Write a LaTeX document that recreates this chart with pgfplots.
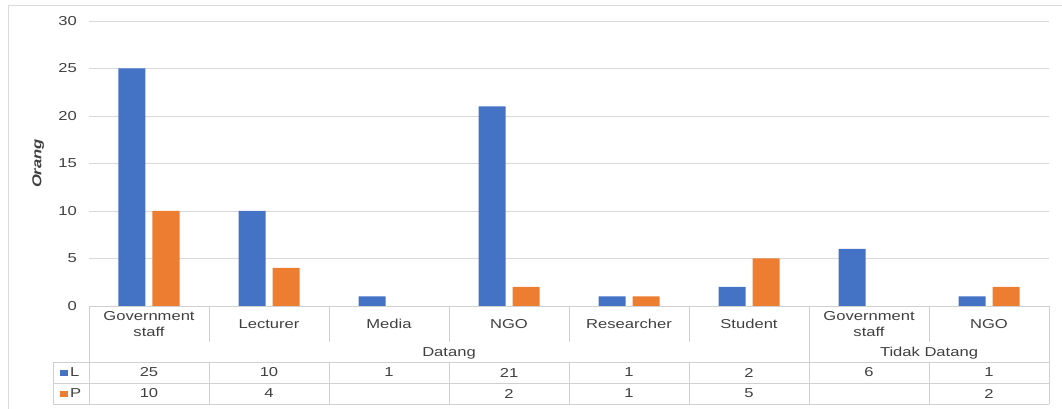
\documentclass[border=0pt]{standalone}
\usepackage{fontspec}
\setmainfont[FakeStretch=1.28]{Liberation Sans}
\usepackage{pgfplots}
\pgfplotsset{compat=1.18}
\definecolor{serL}{HTML}{4472C4}
\definecolor{serP}{HTML}{ED7D31}
\definecolor{gridc}{HTML}{D9D9D9}
\definecolor{linec}{HTML}{D0D0D0}
\definecolor{txt}{HTML}{404040}
\newcommand{\tf}{\fontsize{13}{16}\selectfont}

\begin{document}
\begin{tikzpicture}
% page extent
\path[use as bounding box] (-89bp,-103bp) rectangle (973bp,306bp);
% chart frame
\draw[gridc, line width=0.8bp] (-81bp,-120bp) rectangle (990bp,301bp);

\begin{axis}[
  at={(0,0)}, anchor=south west,
  scale only axis, width=960bp, height=285bp,
  xmin=-0.5, xmax=7.5, ymin=0, ymax=30,
  ytick={0,5,...,30}, xtick=\empty,
  major tick length=0pt,
  ymajorgrids, grid style={gridc, line width=0.8bp},
  axis line style={draw=none},
  /pgf/number format/assume math mode=true,
  yticklabel style={font=\tf, text=txt, inner sep=0pt, xshift=-12bp},
  ylabel={\bfseries\itshape Orang},
  ylabel style={at={(axis description cs:-0.053,0.5)}, anchor=center, font=\tf, text=txt},
  ybar=7bp, bar width=27bp,
  clip=false,
]
% L
\addplot[fill=serL, draw=none] coordinates {(0,25) (1,10) (2,1) (3,21) (4,1) (5,2) (6,6) (7,1)};
% P (no Media, no Tidak Datang / Government staff)
\addplot[fill=serP, draw=none] coordinates {(0,10) (1,4) (3,2) (4,1) (5,5) (7,2)};
\end{axis}

% data table below the plot
\begin{scope}[linec, line width=0.8bp]
  \draw (0bp,0bp) -- (960bp,0bp);
  \draw (-36bp,-56bp) -- (960bp,-56bp);
  \draw (-36bp,-77bp) -- (960bp,-77bp);
  \draw (-36bp,-98bp) -- (960bp,-98bp);
  \draw (-36bp,-56bp) -- (-36bp,-98bp);
  \draw (0bp,0bp) -- (0bp,-98bp);
  \draw (720bp,0bp) -- (720bp,-98bp);
  \draw (960bp,0bp) -- (960bp,-98bp);
  \foreach \c in {1,2,3,4,5,7}{
    \draw (\c*120bp,0bp) -- (\c*120bp,-36bp);
    \draw (\c*120bp,-56bp) -- (\c*120bp,-98bp);
  }
\end{scope}

\begin{scope}[every node/.style={font=\tf, text=txt, align=center, inner sep=0pt}]
  \foreach \lab [count=\i from 0] in {Government\\staff, Lecturer, Media, NGO, Researcher, Student, Government\\staff, NGO}
    \node at (\i*120bp+60bp,-18bp) {\lab};
  \node at (360bp,-47bp) {Datang};
  \node at (840bp,-47bp) {Tidak Datang};
  \foreach \v [count=\i from 0] in {25,10,1,21,1,2,6,1}
    \node at (\i*120bp+60bp,-66.5bp) {\v};
  \foreach \v [count=\i from 0] in {10,4,,2,1,5,,2}
    \node at (\i*120bp+60bp,-87.5bp) {\v};
  % legend keys
  \fill[serL] (-29bp,-69.5bp) rectangle (-21bp,-63.5bp);
  \node[anchor=west] at (-19bp,-66.5bp) {L};
  \fill[serP] (-29bp,-90.5bp) rectangle (-21bp,-84.5bp);
  \node[anchor=west] at (-19bp,-87.5bp) {P};
\end{scope}
\end{tikzpicture}
\end{document}
